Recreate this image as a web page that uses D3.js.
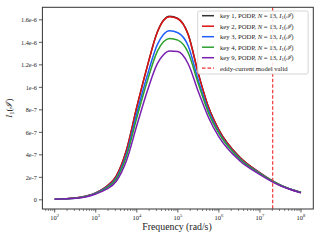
<!DOCTYPE html>
<html><head><meta charset="utf-8">
<script src="https://cdn.jsdelivr.net/npm/d3@7"></script>
<style>
html,body{margin:0;padding:0;background:#fff;}
svg{display:block;font-family:"Liberation Serif","DejaVu Serif",serif;}
</style></head>
<body><svg id="c" width="320" height="240"></svg>
<script>
// Frequencies (rad/s)
const freqs = [1e2, 3.16e2, 5.62e2, 1e3, 1.78e3, 3.16e3, 5.62e3, 1e4, 1.78e4, 3.16e4, 4.47e4, 6.31e4, 1e5, 1.78e5, 3.16e5, 5.62e5, 1e6, 3.16e6, 1e7, 3.16e7, 1e8];
// I1 values (x1e-6)
const key1 = [0.006, 0.016, 0.032, 0.062, 0.116, 0.210, 0.445, 0.825, 1.180, 1.492, 1.597, 1.632, 1.612, 1.472, 1.122, 0.822, 0.622, 0.382, 0.240, 0.130, 0.065];
const key2 = [0.006, 0.016, 0.032, 0.062, 0.116, 0.211, 0.443, 0.826, 1.180, 1.490, 1.595, 1.628, 1.610, 1.470, 1.120, 0.820, 0.620, 0.380, 0.240, 0.130, 0.065];
const key3 = [0.006, 0.015, 0.030, 0.059, 0.108, 0.195, 0.410, 0.770, 1.100, 1.380, 1.470, 1.503, 1.485, 1.370, 1.060, 0.790, 0.600, 0.370, 0.235, 0.130, 0.065];
const key4 = [0.006, 0.015, 0.029, 0.057, 0.103, 0.185, 0.390, 0.730, 1.050, 1.320, 1.405, 1.435, 1.420, 1.310, 1.030, 0.770, 0.590, 0.365, 0.232, 0.130, 0.065];
const key9 = [0.005, 0.013, 0.026, 0.052, 0.092, 0.165, 0.350, 0.660, 0.960, 1.210, 1.290, 1.322, 1.318, 1.210, 0.960, 0.730, 0.560, 0.350, 0.225, 0.125, 0.062];
const seriesNames = ["key 1", "key 2", "key 3", "key 4", "key 9"];
const seriesColors = ["#333333", "#dd1111", "#1f5fff", "#2ca02c", "#7a1fb0"];
const validFreq = 2.04e7;
const yTicks = [0, 2e-7, 4e-7, 6e-7, 8e-7, 1e-6, 1.2e-6, 1.4e-6, 1.6e-6];
const yTickLabels = ["0", "2e-7", "4e-7", "6e-7", "8e-7", "1e-6", "1.2e-6", "1.4e-6", "1.6e-6"];
const xTicks = [1e2, 1e3, 1e4, 1e5, 1e6, 1e7, 1e8];

const allSeries = [key1, key2, key3, key4, key9];
const svg = d3.select("#c");
const L = 42.4, R = 313.3, T = 7.3, B = 209;
const x = d3.scaleLog().domain([Math.pow(10, 1.7), Math.pow(10, 8.3)]).range([L, R]);
const y = d3.scaleLinear().domain([-0.0815e-6, 1.7115e-6]).range([B, T]);

svg.append("clipPath").attr("id", "clip").append("rect").attr("x", L).attr("y", T).attr("width", R - L).attr("height", B - T);

const line = d3.line().x(d => x(d[0])).y(d => y(d[1] * 1e-6)).curve(d3.curveMonotoneX);
const g = svg.append("g").attr("clip-path", "url(#clip)");
allSeries.forEach((s, i) => {
  g.append("path").datum(freqs.map((f, j) => [f, s[j]]))
    .attr("d", line).attr("fill", "none")
    .attr("stroke", seriesColors[i]).attr("stroke-width", 1.5);
});
g.append("line").attr("x1", x(validFreq)).attr("x2", x(validFreq)).attr("y1", T).attr("y2", B)
  .attr("stroke", "#ee3333").attr("stroke-opacity", 0.9).attr("stroke-width", 1.3).attr("stroke-dasharray", "3.5,2");

// axes
const xAxisG = svg.append("g").attr("transform", `translate(0,${B})`);
const minor = [];
for (let e = 1; e <= 8; e++) for (let m = 2; m <= 9; m++) { const v = m * Math.pow(10, e); if (v >= x.domain()[0] && v <= x.domain()[1]) minor.push(v); }
xAxisG.selectAll("line.minor").data(minor).enter().append("line")
  .attr("x1", d => x(d)).attr("x2", d => x(d)).attr("y1", 0).attr("y2", 2).attr("stroke", "#333").attr("stroke-width", 0.6);
xAxisG.selectAll("line.major").data(xTicks).enter().append("line")
  .attr("x1", d => x(d)).attr("x2", d => x(d)).attr("y1", 0).attr("y2", 3.5).attr("stroke", "#333").attr("stroke-width", 0.8);
xAxisG.selectAll("text").data(xTicks).enter().append("text")
  .attr("x", d => x(d)).attr("y", 10.5).attr("text-anchor", "middle").attr("font-size", 6.5).attr("fill", "#222")
  .each(function(d) {
    const t = d3.select(this);
    t.append("tspan").text("10");
    t.append("tspan").attr("dy", -2.8).attr("font-size", 4.6).text(Math.round(Math.log10(d)));
  });

const yAxisG = svg.append("g").attr("transform", `translate(${L},0)`);
yAxisG.selectAll("line").data(yTicks).enter().append("line")
  .attr("x1", -3.5).attr("x2", 0).attr("y1", d => y(d)).attr("y2", d => y(d)).attr("stroke", "#333").attr("stroke-width", 0.8);
yAxisG.selectAll("text").data(yTicks).enter().append("text")
  .attr("x", -5.5).attr("y", d => y(d) + 2.2).attr("text-anchor", "end").attr("font-size", 6.3).attr("fill", "#222")
  .text((d, i) => yTickLabels[i]);

svg.append("rect").attr("x", L).attr("y", T).attr("width", R - L).attr("height", B - T)
  .attr("fill", "none").attr("stroke", "#333").attr("stroke-width", 1);

// axis labels
svg.append("text").attr("x", 177).attr("y", 229.5).attr("text-anchor", "middle").attr("font-size", 9.8).attr("fill", "#222")
  .text("Frequency (rad/s)");
const yl = svg.append("text").attr("transform", `translate(12,${(T + B) / 2}) rotate(-90)`).attr("text-anchor", "middle")
  .attr("font-size", 9).attr("fill", "#222");
yl.append("tspan").attr("font-style", "italic").text("I");
yl.append("tspan").attr("font-size", 6.3).attr("dy", 1.8).text("1");
yl.append("tspan").attr("dy", -1.8).text("(");
yl.append("tspan").attr("font-style", "italic").text("ℐ");
yl.append("tspan").text(")");

// legend
const lg = svg.append("g");
lg.append("rect").attr("x", 197.7).attr("y", 11).attr("width", 110.5).attr("height", 63).attr("rx", 2)
  .attr("fill", "#fff").attr("fill-opacity", 0.85).attr("stroke", "#ccc").attr("stroke-width", 0.8);
const rowY = i => 15.7 + i * 10.5;
seriesNames.forEach((nm, i) => {
  lg.append("line").attr("x1", 202).attr("x2", 214).attr("y1", rowY(i)).attr("y2", rowY(i))
    .attr("stroke", seriesColors[i]).attr("stroke-width", 1.5);
  const t = lg.append("text").attr("x", 220).attr("y", rowY(i) + 2.4).attr("font-size", 6.7).attr("fill", "#222");
  t.append("tspan").text(nm + ", PODP, ");
  t.append("tspan").attr("font-style", "italic").text("N");
  t.append("tspan").text(" = 13, ");
  t.append("tspan").attr("font-style", "italic").text("I");
  t.append("tspan").attr("font-size", 4.7).attr("dy", 1.3).text("1");
  t.append("tspan").attr("dy", -1.3).text("(");
  t.append("tspan").attr("font-style", "italic").text("ℐ");
  t.append("tspan").text(")");
});
lg.append("line").attr("x1", 202).attr("x2", 214).attr("y1", rowY(5)).attr("y2", rowY(5))
  .attr("stroke", "#ee3333").attr("stroke-width", 1.3).attr("stroke-dasharray", "3.5,2");
lg.append("text").attr("x", 220).attr("y", rowY(5) + 2.4).attr("font-size", 6.7).attr("fill", "#222").text("eddy-current model valid");
</script></body></html>
